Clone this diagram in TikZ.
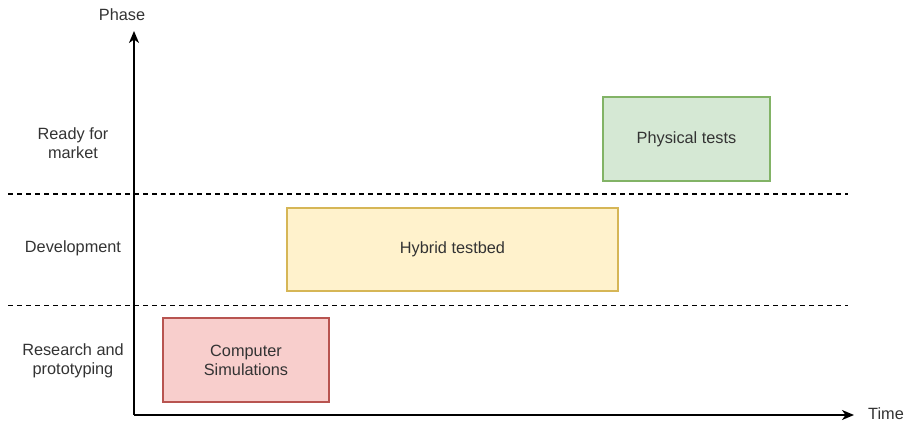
\documentclass[tikz,border=0pt]{standalone}
\usepackage{fontspec}
\setmainfont{Liberation Sans}
\usetikzlibrary{arrows.meta}
\definecolor{redfill}{HTML}{F8CECC}
\definecolor{redline}{HTML}{B85450}
\definecolor{yelfill}{HTML}{FFF2CC}
\definecolor{yelline}{HTML}{D6B656}
\definecolor{grnfill}{HTML}{D5E8D4}
\definecolor{grnline}{HTML}{82B366}
\definecolor{txt}{HTML}{333333}
\begin{document}
\begin{tikzpicture}[x=1pt,y=-1pt,
  every node/.style={font=\fontsize{16.3}{19}\selectfont, text=txt},
  phasebox/.style={draw, line width=1.1pt, inner sep=0pt, align=center},
  lane/.style={align=center},
  axis/.style={line width=1.4pt, -{Stealth[length=12pt,width=10pt,inset=3.5pt]}},
  sep/.style={line width=1pt, dash pattern=on 5pt off 4pt}]
  \useasboundingbox (0,0) rectangle (908,425);
  % axes
  \coordinate (origin) at (134,415);
  \coordinate (ytop) at (134,31);
  \coordinate (xend) at (854,415);
  \draw[axis] (origin) -- (ytop);
  \draw[axis] (origin) -- (xend);
  \node (phase) at (122,15) {Phase};
  \node (time) at (886,414) {Time};
  % phase separators
  \coordinate (s1a) at (8,194); \coordinate (s1b) at (848,194);
  \coordinate (s2a) at (8,305); \coordinate (s2b) at (848,305);
  \draw[sep] (s1a) -- (s1b);
  \draw[sep] (s2a) -- (s2b);
  % lane labels
  \node[lane] (market) at (73,143) {Ready for\\market};
  \node[lane] (dev) at (73,248) {Development};
  \node[lane] (research) at (73,361) {Research and\\prototyping};
  % activities
  \node[phasebox, fill=redfill, draw=redline, minimum width=166pt, minimum height=84pt] (sim) at (246,360) {Computer\\Simulations};
  \node[phasebox, fill=yelfill, draw=yelline, minimum width=331pt, minimum height=83pt] (hyb) at (452.5,249.5) {Hybrid testbed};
  \node[phasebox, fill=grnfill, draw=grnline, minimum width=167pt, minimum height=84pt] (phys) at (686.5,139) {Physical tests};
\end{tikzpicture}
\end{document}
